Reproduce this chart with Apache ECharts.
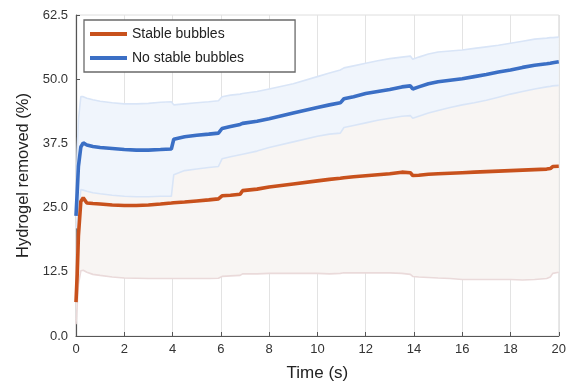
<!DOCTYPE html>
<html>
<head>
<meta charset="utf-8">
<script src="https://cdn.jsdelivr.net/npm/echarts@6/dist/echarts.min.js"></script>
<style>
html,body{margin:0;padding:0;background:#fff;}
#chart{width:569px;height:387px;}
</style>
</head>
<body>
<div id="chart"></div>
<script>
// Time samples (s)
const time = [0, 0.05, 0.1, 0.2, 0.3, 0.45, 0.7, 1, 1.5, 2, 2.5, 3, 3.5, 3.95, 4.05, 4.5, 5, 5.5, 5.9, 6.05, 6.4, 6.8, 6.9, 7.5, 8, 9, 10, 10.5, 10.95, 11.1, 11.5, 12, 12.5, 13, 13.5, 13.85, 13.95, 14.2, 14.6, 15, 15.5, 16, 16.5, 17, 17.5, 18, 18.5, 19, 19.5, 19.65, 19.75, 20];

// No stable bubbles: mean, upper and lower band
const blueMean = [23.4, 28, 33, 36.8, 37.6, 37.2, 36.9, 36.7, 36.5, 36.3, 36.2, 36.2, 36.3, 36.4, 38.3, 38.8, 39.1, 39.3, 39.5, 40.4, 40.8, 41.2, 41.4, 41.8, 42.3, 43.4, 44.5, 45.0, 45.4, 46.2, 46.6, 47.2, 47.6, 48.0, 48.5, 48.7, 48.1, 48.5, 49.1, 49.5, 49.8, 50.1, 50.5, 50.9, 51.4, 51.8, 52.3, 52.7, 53.0, 53.1, 53.2, 53.4];
const blueUpper = [26, 36, 42, 46.6, 46.6, 46.3, 46.0, 45.7, 45.4, 45.2, 45.2, 45.3, 45.5, 45.6, 45.0, 45.2, 45.4, 45.6, 45.8, 46.6, 46.9, 47.1, 47.2, 47.6, 48.1, 49.1, 50.5, 51.2, 51.8, 52.2, 52.6, 53.1, 53.6, 54.0, 54.3, 54.5, 53.9, 54.3, 54.9, 55.3, 55.5, 55.7, 56.0, 56.3, 56.6, 57.0, 57.4, 57.8, 58.0, 58.1, 58.1, 58.2];
const blueLower = [21, 21, 24, 28.5, 28.4, 28.2, 27.9, 27.7, 27.4, 27.2, 27.1, 27.1, 27.2, 27.2, 31.4, 32.2, 32.5, 32.8, 33.0, 34.5, 34.9, 35.3, 35.4, 36.0, 36.7, 37.8, 38.9, 39.3, 39.5, 40.6, 41.0, 41.5, 42.0, 42.4, 42.8, 42.9, 42.4, 42.8, 43.4, 43.9, 44.5, 45.0, 45.4, 45.9, 46.5, 47.1, 47.6, 48.1, 48.5, 48.6, 48.7, 48.8];

// Stable bubbles: mean, upper and lower band
const orangeMean = [6.6, 12, 19.5, 26.2, 26.9, 25.9, 25.8, 25.7, 25.5, 25.4, 25.4, 25.5, 25.7, 25.9, 25.95, 26.1, 26.3, 26.5, 26.7, 27.3, 27.4, 27.6, 28.3, 28.6, 29.0, 29.6, 30.2, 30.5, 30.7, 30.8, 31.0, 31.2, 31.4, 31.6, 31.9, 31.8, 31.25, 31.3, 31.5, 31.6, 31.7, 31.8, 31.9, 32.0, 32.1, 32.2, 32.3, 32.4, 32.5, 32.6, 33.0, 33.05];
const orangeUpper = [11, 18, 29, 39.7, 41, 39.4, 39.6, 39.6, 39.5, 39.5, 39.5, 39.8, 40.2, 40.6, 40.7, 41.0, 41.4, 41.8, 42.1, 43.0, 43.1, 43.4, 44.5, 45.1, 45.8, 47.0, 48.2, 48.9, 49.2, 49.3, 49.7, 50.1, 50.5, 50.9, 51.6, 51.6, 50.9, 51.1, 51.6, 51.9, 52.2, 52.6, 52.8, 53.0, 53.2, 53.4, 53.7, 53.8, 53.8, 53.7, 53.8, 53.7];
const orangeLower = [2.3, 6, 10, 12.7, 12.8, 12.4, 12.0, 11.8, 11.5, 11.3, 11.25, 11.2, 11.2, 11.2, 11.2, 11.2, 11.2, 11.2, 11.25, 11.6, 11.7, 11.8, 12.1, 12.1, 12.2, 12.2, 12.2, 12.1, 12.2, 12.3, 12.3, 12.3, 12.3, 12.3, 12.2, 12.0, 11.6, 11.5, 11.4, 11.3, 11.2, 11.0, 11.0, 11.0, 11.0, 11.0, 10.9, 11.0, 11.2, 11.5, 12.2, 12.4];

const yTicks = [0, 12.5, 25, 37.5, 50, 62.5];
const xTicks = [0, 2, 4, 6, 8, 10, 12, 14, 16, 18, 20];

function pairs(arr) { return time.map((t, i) => [t, arr[i]]); }

const BLUE = '#3b6fc5';
const ORANGE = '#c8511c';
const FONT = '"Liberation Sans", Arial, Helvetica, sans-serif';

const chart = echarts.init(document.getElementById('chart'), null, {renderer: 'canvas'});

function bandSeries(id, up, lo, fill, edge, z) {
  return [
    {
      type: 'custom', name: id, coordinateSystem: 'cartesian2d', silent: true, z: z,
      data: [[time[0], lo[0]]],
      renderItem: function (params, api) {
        const pts = [];
        for (let i = 0; i < time.length; i++) pts.push(api.coord([time[i], up[i]]));
        for (let i = time.length - 1; i >= 0; i--) pts.push(api.coord([time[i], lo[i]]));
        return {type: 'polygon', shape: {points: pts}, style: {fill: fill, stroke: null}};
      }
    },
    {type: 'line', name: id + 'EdgeLo', data: pairs(lo), symbol: 'none', silent: true,
     lineStyle: {width: 1.6, color: edge}, z: z + 1},
    {type: 'line', name: id + 'EdgeUp', data: pairs(up), symbol: 'none', silent: true,
     lineStyle: {width: 1.6, color: edge}, z: z + 1}
  ];
}

const option = {
  animation: false,
  grid: {left: 76, right: 10, top: 15, bottom: 50, show: true, borderColor: '#dedede', borderWidth: 1},
  legend: {
    data: ['Stable bubbles', 'No stable bubbles'],
    orient: 'vertical',
    left: 84, top: 20,
    padding: [7, 51, 7, 6],
    itemGap: 10,
    itemWidth: 37, itemHeight: 4,
    icon: 'rect',
    backgroundColor: '#fff',
    borderColor: '#6a6a6a', borderWidth: 1.3,
    textStyle: {fontFamily: FONT, fontSize: 14, color: '#222'}
  },
  xAxis: {
    type: 'value', min: 0, max: 20, interval: 2,
    name: 'Time (s)', nameLocation: 'middle', nameGap: 29,
    nameTextStyle: {fontFamily: FONT, fontSize: 17, color: '#222'},
    axisLine: {show: true, onZero: false, lineStyle: {color: '#555', width: 1.2}},
    axisTick: {show: true, inside: true, length: 4, lineStyle: {color: '#555'}},
    axisLabel: {fontFamily: FONT, fontSize: 13, color: '#333', margin: 7},
    splitLine: {show: true, lineStyle: {color: '#e3e3e3', width: 1}}
  },
  yAxis: {
    type: 'value', min: 0, max: 62.5, interval: 12.5,
    name: 'Hydrogel removed (%)', nameLocation: 'middle', nameGap: 44,
    nameTextStyle: {fontFamily: FONT, fontSize: 16.5, color: '#222'},
    axisLine: {show: true, onZero: false, lineStyle: {color: '#555', width: 1.2}},
    axisTick: {show: true, inside: true, length: 4, lineStyle: {color: '#555'}},
    axisLabel: {fontFamily: FONT, fontSize: 13, color: '#333', margin: 8,
      formatter: v => v.toFixed(1)},
    splitLine: {show: false}
  },
  series: [
    ...bandSeries('orangeBand', orangeUpper, orangeLower, '#f8f5f3', '#eadada', 1),
    ...bandSeries('blueBand', blueUpper, blueLower, '#f0f5fc', '#d9e5f7', 3),
    {type: 'line', name: 'Stable bubbles', data: pairs(orangeMean), symbol: 'none',
     color: ORANGE, lineStyle: {width: 3.6, color: ORANGE}, z: 6},
    {type: 'line', name: 'No stable bubbles', data: pairs(blueMean), symbol: 'none',
     color: BLUE, lineStyle: {width: 3.6, color: BLUE}, z: 7}
  ]
};
chart.setOption(option);
</script>
</body>
</html>
